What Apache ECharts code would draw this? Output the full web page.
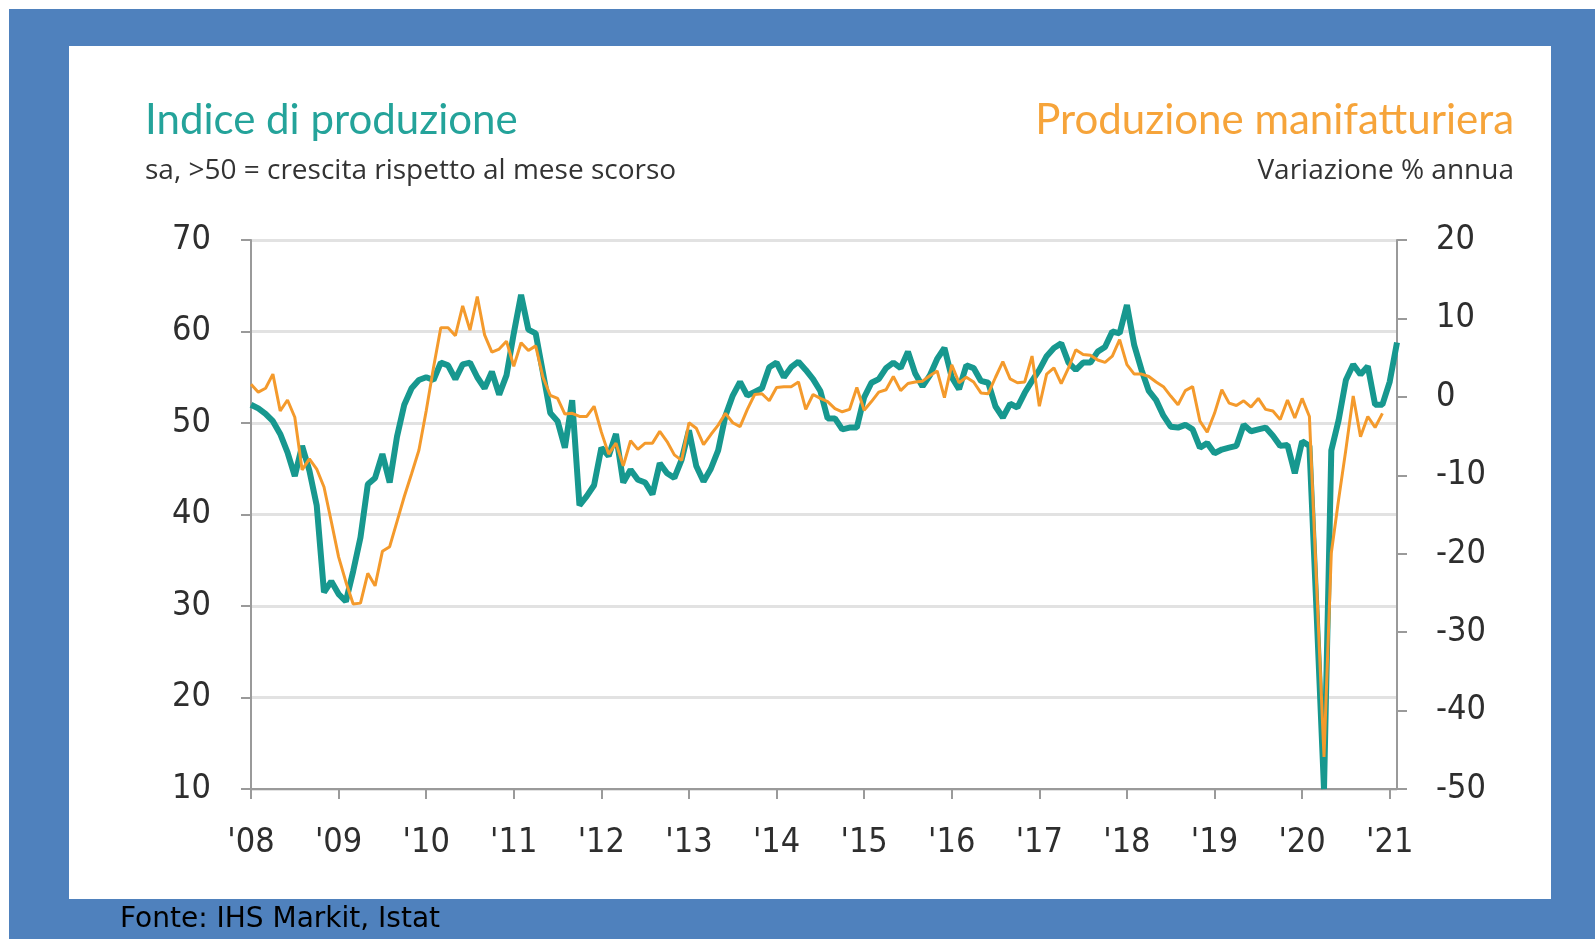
<!DOCTYPE html>
<html>
<head>
<meta charset="utf-8">
<script src="https://cdn.jsdelivr.net/npm/echarts@6/dist/echarts.min.js"></script>
<style>
html,body{margin:0;padding:0;width:1595px;height:939px;overflow:hidden;background:#ffffff;}
#blue{position:absolute;left:9px;top:9px;width:1586px;height:930px;background:#4f81bd;}
#panel{position:absolute;left:69px;top:46px;width:1482px;height:853px;background:#ffffff;}
#chart{position:absolute;left:0;top:0;width:1595px;height:939px;}
</style>
</head>
<body>
<div id="blue"></div>
<div id="panel"></div>
<div id="chart"></div>
<script>
// x-axis tick labels (one per year, January)
var yearLabels = ["'08","'09","'10","'11","'12","'13","'14","'15","'16","'17","'18","'19","'20","'21"];
var lastYearMonths = 2; // data runs to Feb 2021

// Indice di produzione (PMI output, left axis), monthly Jan 2008 - Feb 2021
var indiceProduzione = [
  52.0,51.6,51.0,50.2,48.8,46.8,44.2,47.5,44.8,41.0,31.5,32.7,
  31.3,30.5,33.8,37.5,43.3,44.0,46.6,43.5,48.5,52.0,53.8,54.7,
  55.0,54.7,56.6,56.3,54.8,56.4,56.6,55.0,53.8,55.6,53.1,55.2,
  59.8,64.0,60.2,59.8,55.5,51.1,50.2,47.3,52.5,41.0,42.0,43.2,
  47.3,46.4,48.8,43.5,44.9,43.8,43.5,42.2,45.6,44.5,44.0,46.0,
  49.2,45.3,43.6,45.0,47.0,50.8,53.0,54.5,53.0,53.4,53.8,56.1,
  56.6,55.0,56.1,56.7,55.8,54.8,53.5,50.5,50.5,49.3,49.5,49.5,
  52.8,54.4,54.8,56.0,56.6,56.0,57.8,55.4,54.0,55.2,57.0,58.2,
  55.0,53.7,56.3,56.0,54.6,54.4,51.8,50.6,52.1,51.7,53.3,54.6,
  55.8,57.3,58.2,58.7,56.6,55.8,56.6,56.6,57.8,58.3,60.0,59.8,
  62.9,58.5,55.8,53.5,52.5,50.8,49.6,49.5,49.8,49.3,47.3,47.8,
  46.7,47.1,47.3,47.5,49.8,49.1,49.3,49.5,48.6,47.5,47.6,44.5,
  48.0,47.5,29.0,10.0,47.0,50.3,54.7,56.4,55.3,56.2,52.0,52.0,
  54.5,58.8
];

// Produzione manifatturiera (% y/y, right axis), monthly Jan 2008 - Dec 2020
var produzioneManifatturiera = [
  1.6,0.6,1.1,2.9,-1.8,-0.4,-2.6,-9.3,-7.9,-9.2,-11.5,-15.9,
  -20.4,-23.6,-26.4,-26.3,-22.5,-24.1,-19.7,-19.1,-15.9,-12.7,-9.8,-6.8,
  -1.8,3.7,8.8,8.8,7.8,11.6,8.5,12.8,7.9,5.7,6.1,7.1,
  3.9,6.9,5.9,6.5,2.5,0.2,-0.2,-2.2,-2.1,-2.5,-2.5,-1.2,
  -4.5,-7.3,-5.9,-8.8,-5.6,-6.7,-5.9,-5.9,-4.4,-5.7,-7.4,-8.1,
  -3.3,-4.0,-6.1,-4.8,-3.6,-2.1,-3.3,-3.8,-1.6,0.3,0.4,-0.5,
  1.2,1.3,1.3,1.9,-1.6,0.3,-0.2,-0.6,-1.5,-1.9,-1.6,1.2,
  -1.7,-0.6,0.6,0.9,2.6,0.8,1.7,1.9,2.0,2.7,3.3,-0.1,
  4.1,1.8,2.5,1.9,0.5,0.4,2.5,4.5,2.3,1.8,1.9,5.2,
  -1.2,2.9,3.7,1.7,3.7,6.0,5.4,5.3,4.7,4.4,5.2,7.3,
  4.1,2.9,2.9,2.6,1.9,1.3,0.1,-1.0,0.8,1.3,-3.1,-4.5,
  -2.1,0.9,-0.8,-1.1,-0.5,-1.3,-0.2,-1.6,-1.8,-2.9,-0.4,-2.7,
  -0.2,-2.5,-24.3,-45.9,-19.9,-13.1,-6.7,0.1,-5.1,-2.5,-3.9,-2.1,
  null,null
];

var leftTicks = [10,20,30,40,50,60,70];
var rightTicks = [-50,-40,-30,-20,-10,0,10,20];

// build monthly categories
var categories = [];
for (var y = 0; y < yearLabels.length; y++) {
  var nm = (y === yearLabels.length - 1) ? lastYearMonths : 12;
  for (var m = 0; m < nm; m++) categories.push(yearLabels[y] + '-' + (m + 1));
}

var tickFont = '"DejaVu Sans Condensed","DejaVu Sans",sans-serif';
var axisGray = '#9a9a9a';
var labelColor = '#2e2e2e';

var chart = echarts.init(document.getElementById('chart'), null, {renderer: 'canvas'});
chart.setOption({
  backgroundColor: 'transparent',
  animation: false,
  grid: {left: 251, right: 198, top: 240, bottom: 150, containLabel: false},
  xAxis: {
    type: 'category',
    data: categories,
    boundaryGap: false,
    axisLine: {show: true, onZero: false, lineStyle: {color: axisGray, width: 2}},
    axisTick: {show: true, length: 10, lineStyle: {color: axisGray, width: 2},
      interval: function (i) { return i % 12 === 0; }},
    axisLabel: {
      interval: function (i) { return i % 12 === 0; },
      formatter: function (v) { return v.split('-')[0]; },
      color: labelColor, fontFamily: tickFont, fontSize: 34, margin: 37
    },
    splitLine: {show: false}
  },
  yAxis: [{
    type: 'value', position: 'left', min: leftTicks[0], max: leftTicks[leftTicks.length - 1], interval: 10,
    axisLine: {show: true, onZero: false, lineStyle: {color: axisGray, width: 2}},
    axisTick: {show: true, length: 10, lineStyle: {color: axisGray, width: 2}},
    axisLabel: {color: labelColor, fontFamily: tickFont, fontSize: 34, margin: 40},
    splitLine: {show: true, lineStyle: {color: '#e2e2e2', width: 3}}
  }, {
    type: 'value', position: 'right', min: rightTicks[0], max: rightTicks[rightTicks.length - 1], interval: 10,
    axisLine: {show: true, onZero: false, lineStyle: {color: axisGray, width: 2}},
    axisTick: {show: true, length: 10, lineStyle: {color: axisGray, width: 2}},
    axisLabel: {color: labelColor, fontFamily: tickFont, fontSize: 34, margin: 39},
    splitLine: {show: false}
  }],
  series: [{
    name: 'Indice di produzione', type: 'line', yAxisIndex: 0,
    data: indiceProduzione, showSymbol: false, smooth: false,
    lineStyle: {color: '#17988f', width: 6}, itemStyle: {color: '#17988f'}, z: 2
  }, {
    name: 'Produzione manifatturiera', type: 'line', yAxisIndex: 1,
    data: produzioneManifatturiera, showSymbol: false, smooth: false,
    lineStyle: {color: '#f49a2c', width: 3}, itemStyle: {color: '#f49a2c'}, z: 3
  }],
  graphic: [
    {type: 'text', x: 145, y: 120, style: {text: 'Indice di produzione', font: '42px Lato, sans-serif', fill: '#24a39a', align: 'left', verticalAlign: 'middle'}},
    {type: 'text', x: 145, y: 171, style: {text: 'sa, >50 = crescita rispetto al mese scorso', font: '28px "Open Sans", sans-serif', fill: '#333333', align: 'left', verticalAlign: 'middle'}},
    {type: 'text', x: 1514, y: 120, style: {text: 'Produzione manifatturiera', font: '42px Lato, sans-serif', fill: '#f6a43a', align: 'right', verticalAlign: 'middle'}},
    {type: 'text', x: 1514, y: 171, style: {text: 'Variazione % annua', font: '28px "Open Sans", sans-serif', fill: '#333333', align: 'right', verticalAlign: 'middle'}},
    {type: 'text', x: 120, y: 920, style: {text: 'Fonte: IHS Markit, Istat', font: '28px "DejaVu Sans", sans-serif', fill: '#000000', align: 'left', verticalAlign: 'middle'}}
  ]
});
</script>
</body>
</html>
